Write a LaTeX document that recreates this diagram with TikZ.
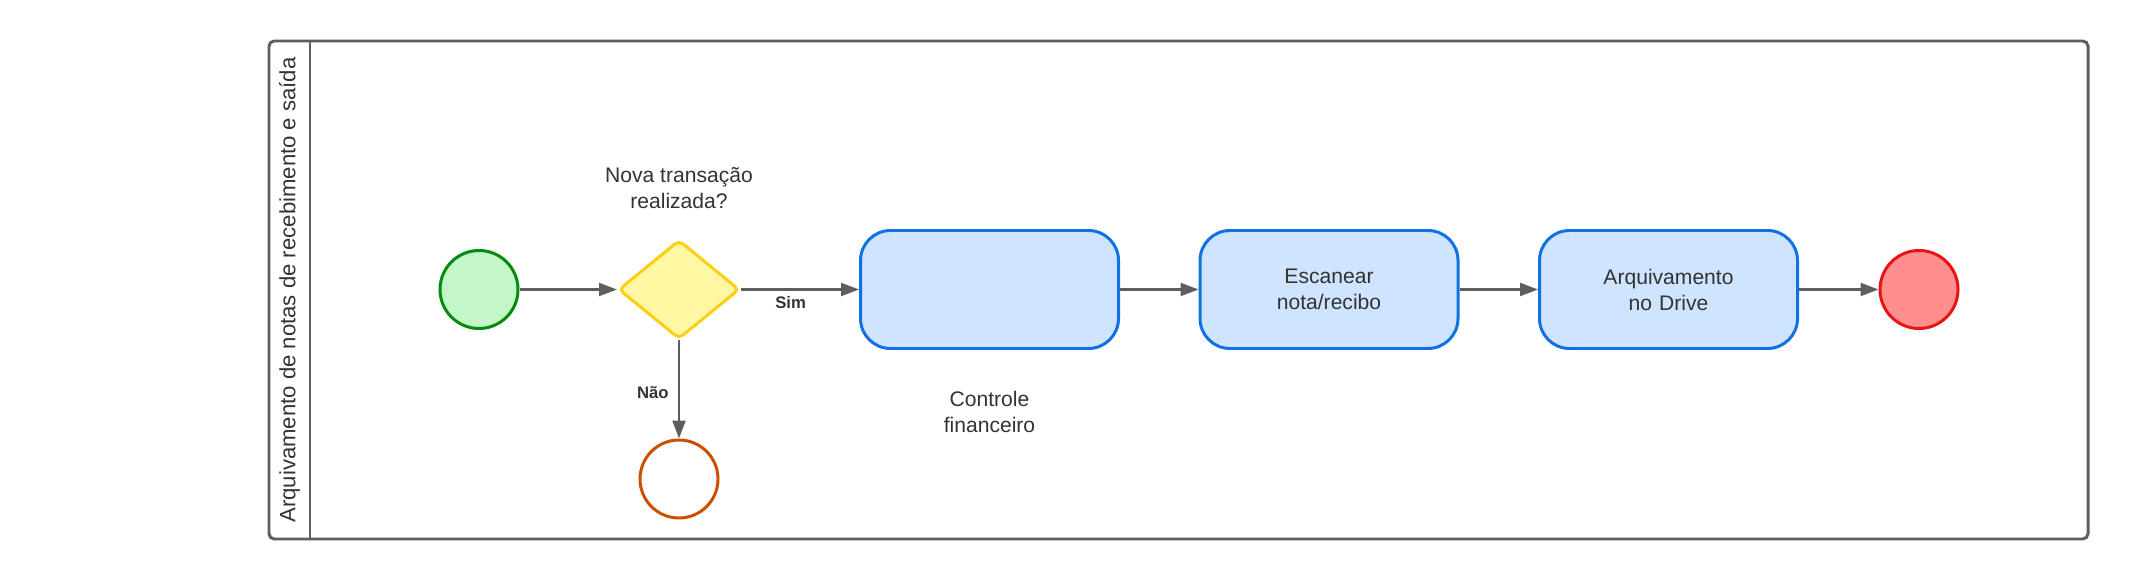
\documentclass[tikz,border=0pt]{standalone}
\usepackage{fontspec}
\setmainfont{Liberation Sans}
\usepackage{xcolor}
\usetikzlibrary{positioning, arrows.meta, shapes.geometric, calc}
\definecolor{poolline}{HTML}{5E5E5E}
\definecolor{txt}{HTML}{333333}
\definecolor{startfill}{HTML}{C3F7C8}
\definecolor{startline}{HTML}{008A0E}
\definecolor{gatefill}{HTML}{FFF7A1}
\definecolor{gateline}{HTML}{FCCE14}
\definecolor{taskfill}{HTML}{CFE4FF}
\definecolor{taskline}{HTML}{1071E5}
\definecolor{endfill}{HTML}{FF8F8F}
\definecolor{endline}{HTML}{E81313}
\definecolor{otherline}{HTML}{CC4E00}
\tikzstyle{event} = [circle, line width=1.7pt, minimum size=1.56cm, inner sep=0pt]
\tikzstyle{startev} = [event, draw=startline, fill=startfill]
\tikzstyle{endev} = [event, draw=endline, fill=endfill]
\tikzstyle{otherev} = [event, draw=otherline, fill=white]
\tikzstyle{gateway} = [diamond, draw=gateline, fill=gatefill, line width=1.7pt, minimum width=2.42cm, minimum height=1.98cm, inner sep=0pt, rounded corners=3pt]
\tikzstyle{task} = [rectangle, draw=taskline, fill=taskfill, line width=1.7pt, rounded corners=0.6cm, minimum width=5.16cm, minimum height=2.36cm, text width=4.8cm, align=center, text=txt, font=\fontsize{12}{14.8}\selectfont]
\tikzstyle{note} = [align=center, text=txt, font=\fontsize{12}{14.8}\selectfont]
\tikzstyle{line} = [draw=poolline, line width=1.2pt, -{Triangle[length=3.6mm, width=2.6mm]}]
\tikzstyle{cond} = [text=txt, font=\fontsize{9.5}{11}\selectfont\bfseries]

\begin{document}
\begin{tikzpicture}[node distance=6.79cm, auto]
        \useasboundingbox (0,0) rectangle (42.58,11.6);

        % Pool
        \draw[poolline, line width=1.7pt, rounded corners=3pt] (5.38,0.82) rectangle (41.76,10.78);
        \draw[poolline, line width=1.7pt] (6.2,0.82) -- (6.2,10.78);
        \node (lane) [rotate=90, text=txt, font=\fontsize{12.6}{15}\selectfont] at (5.79,5.8) {Arquivamento de notas de recebimento e saída};

        % Nodes
        \node (start) [startev] at (9.58,5.81) {};
        \node (gate) [gateway, right of=start, xshift=-2.79cm] {};
        \node (gatetext) [note, node distance=2.03cm, above of=gate] {Nova transação\\realizada?};
        \node (control) [task, right of=gate, xshift=-0.58cm] {};
        \node (controltext) [note, node distance=2.45cm, below of=control] {Controle\\financeiro};
        \node (scan) [task, right of=control] {Escanear\\nota/recibo};
        \node (drive) [task, right of=scan] {Arquivamento\\no Drive};
        \node (finish) [endev, right of=drive, xshift=-1.78cm] {};
        \node (other) [otherev, node distance=3.79cm, below of=gate] {};

        % Edges
        \path [line] (start) -- (gate);
        \path [line] (gate) -- node[cond, below, pos=0.42] {Sim} (control);
        \path [line] (control) -- (scan);
        \path [line] (scan) -- (drive);
        \path [line] (drive) -- (finish);
        \path [line] (gate) -- node[cond, left, pos=0.53, xshift=-2pt] {Não} (other);

    \end{tikzpicture}
\end{document}
